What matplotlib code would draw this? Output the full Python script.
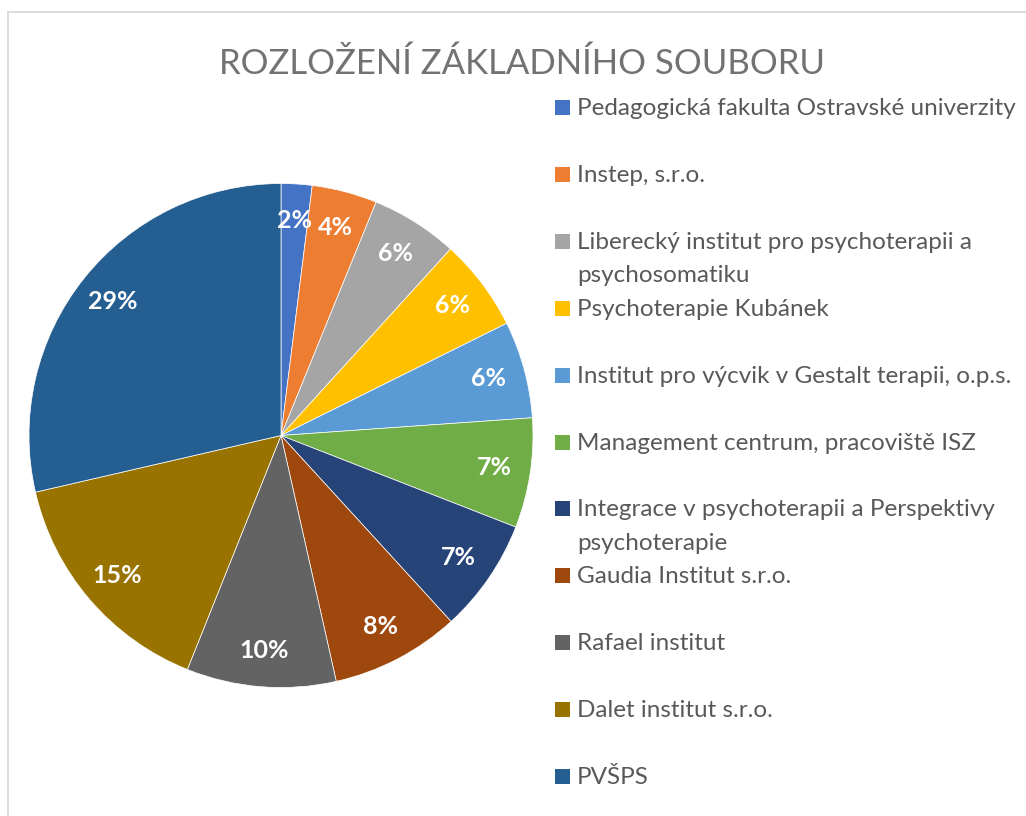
import matplotlib
matplotlib.use("Agg")
import matplotlib.pyplot as plt
from matplotlib.lines import Line2D
from matplotlib.patches import Rectangle

plt.rcParams['font.family'] = ['Lato', 'DejaVu Sans']

# ---- data ----
title = "ROZLOŽENÍ ZÁKLADNÍHO SOUBORU"
categories = [
    "Pedagogická fakulta Ostravské univerzity",
    "Instep, s.r.o.",
    "Liberecký institut pro psychoterapii a\npsychosomatiku",
    "Psychoterapie Kubánek",
    "Institut pro výcvik v Gestalt terapii, o.p.s.",
    "Management centrum, pracoviště ISZ",
    "Integrace v psychoterapii a Perspektivy\npsychoterapie",
    "Gaudia Institut s.r.o.",
    "Rafael institut",
    "Dalet institut s.r.o.",
    "PVŠPS",
]
shares = [1.98, 4.18, 5.58, 5.92, 6.22, 7.04, 7.29, 8.27, 9.58, 15.33, 28.61]
colors = ["#4472C4", "#ED7D31", "#A5A5A5", "#FFC000", "#5B9BD5", "#70AD47",
          "#264478", "#9E480E", "#636363", "#997300", "#255E91"]

W, H = 1026, 816
fig = plt.figure(figsize=(W / 100, H / 100), dpi=100)
fig.patch.set_facecolor("white")

def fx(px):
    return px / W

def fy(py):
    return 1 - py / H

# chart border (top and left visible)
fig.add_artist(Line2D([fx(8), fx(W)], [fy(12), fy(12)], color="#D9D9D9", lw=1.3))
fig.add_artist(Line2D([fx(8), fx(8)], [fy(12), fy(H)], color="#D9D9D9", lw=1.3))

# title
fig.text(fx(522), fy(74), title, ha="center", va="baseline", fontsize=25,
         color="#727272", fontweight="normal")

# pie
cx, cy, R = 281, 435.5, 252
ax = fig.add_axes([fx(cx - R), fy(cy + R), 2 * R / W, 2 * R / H])
wedges, texts, autotexts = ax.pie(
    shares, colors=colors, startangle=90, counterclock=False,
    autopct=lambda p: f"{p:.0f}%", pctdistance=0.855, radius=1.0,
    wedgeprops=dict(edgecolor="white", linewidth=0.5),
    textprops=dict(color="white", fontsize=18, fontweight="bold"))
ax.set_xlim(-1, 1)
ax.set_ylim(-1, 1)
ax.set_aspect("equal")
ax.axis("off")

# legend
x_box, x_text = 555, 577
y0, step, line_h, box = 115, 66.9, 33.3, 15
for i, (lab, col) in enumerate(zip(categories, colors)):
    yb = y0 + step * i
    fig.add_artist(Rectangle((fx(x_box), fy(yb)), box / W, box / H,
                             facecolor=col, edgecolor="none"))
    for k, line in enumerate(lab.split("\n")):
        fig.text(fx(x_text), fy(yb + k * line_h), line, ha="left",
                 va="baseline", fontsize=17.5, color="#595959")

fig.savefig("out.png", dpi=100)
